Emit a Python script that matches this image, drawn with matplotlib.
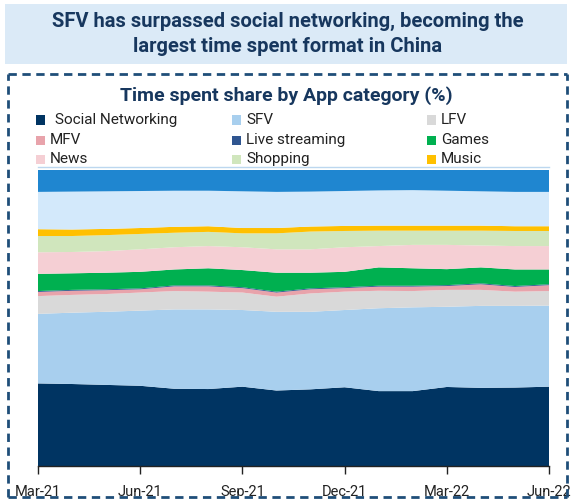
import matplotlib
matplotlib.use("Agg")
import matplotlib.pyplot as plt
from matplotlib.patches import Rectangle
from matplotlib.lines import Line2D
import numpy as np

# Monthly time-spent share by app category, Mar-21 .. Jun-22 (%)
months = ["Mar-21", "Apr-21", "May-21", "Jun-21", "Jul-21", "Aug-21", "Sep-21", "Oct-21",
          "Nov-21", "Dec-21", "Jan-22", "Feb-22", "Mar-22", "Apr-22", "May-22", "Jun-22"]
tick_labels = ["Mar-21", "Jun-21", "Sep-21", "Dec-21", "Mar-22", "Jun-22"]

social_networking = [27.9, 27.7, 27.4, 27.1, 26.1, 26.0, 26.8, 25.5, 25.9, 26.6, 25.3, 25.3, 26.7, 26.4, 26.5, 26.8]
sfv = [23.5, 24.1, 24.7, 25.4, 26.8, 26.9, 25.9, 26.6, 26.2, 26.1, 28.0, 28.3, 27.1, 27.7, 27.6, 27.4]
lfv = [6.0, 6.0, 6.0, 6.1, 6.2, 6.0, 5.9, 5.1, 6.2, 6.2, 5.9, 5.5, 5.7, 5.4, 4.8, 4.9]
mfv = [1.4, 1.4, 1.3, 1.1, 1.6, 1.8, 1.5, 1.4, 1.4, 1.2, 1.4, 1.5, 1.3, 1.9, 1.6, 2.0]
live_streaming = [0.3, 0.3, 0.3, 0.3, 0.3, 0.3, 0.3, 0.3, 0.3, 0.3, 0.3, 0.3, 0.3, 0.3, 0.3, 0.3]
games = [5.8, 5.6, 5.6, 5.6, 5.4, 5.8, 5.8, 6.4, 5.3, 5.2, 6.2, 5.9, 5.4, 5.4, 5.6, 5.0]
news = [7.3, 7.2, 7.3, 7.6, 7.5, 7.5, 7.7, 7.9, 7.9, 8.3, 7.2, 7.9, 8.2, 7.4, 7.9, 7.9]
shopping = [5.5, 5.4, 5.4, 5.2, 4.9, 4.8, 4.7, 5.4, 6.0, 5.5, 5.2, 4.8, 4.8, 5.0, 5.1, 5.1]
music = [2.3, 2.2, 2.1, 2.0, 2.0, 1.9, 1.8, 1.8, 1.7, 1.7, 1.7, 1.7, 1.7, 1.7, 1.6, 1.6]
other_light = [12.6, 12.8, 12.7, 12.5, 12.2, 12.0, 12.4, 12.2, 11.8, 11.8, 11.9, 12.0, 11.8, 11.6, 11.6, 11.6]
other_dark = [7.4, 7.3, 7.2, 7.1, 7.0, 7.0, 7.2, 7.4, 7.3, 7.1, 6.9, 6.8, 7.0, 7.2, 7.4, 7.4]

layers = [
    ("Social Networking", social_networking, "#003462"),
    ("SFV", sfv, "#a8cfee"),
    ("LFV", lfv, "#d9d9d9"),
    ("MFV", mfv, "#e8a3ab"),
    ("Live streaming", live_streaming, "#2f5590"),
    ("Games", games, "#00b050"),
    ("News", news, "#f5cfd4"),
    ("Shopping", shopping, "#d0e6bd"),
    ("Music", music, "#ffc000"),
    (None, other_light, "#d3e9fb"),
    (None, other_dark, "#1f86d0"),
]

NAVY = "#17375e"
FONT = ["Roboto", "DejaVu Sans"]
TITLE_FONT = ["Liberation Sans Narrow", "Roboto", "DejaVu Sans"]

fig = plt.figure(figsize=(5.72, 4.99), dpi=100)

# Header band
fig.patches.append(Rectangle((5 / 572, 1 - 64 / 499), 562 / 572, 60 / 499,
                             transform=fig.transFigure, facecolor="#dbeaf7",
                             edgecolor="none", zorder=0))
fig.text(0.503, 1 - 21 / 499, "SFV has surpassed social networking, becoming the",
         ha="center", va="center", fontsize=14.5, fontweight="bold", color=NAVY,
         family=TITLE_FONT)
fig.text(0.503, 1 - 47 / 499, "largest time spent format in China",
         ha="center", va="center", fontsize=14.5, fontweight="bold", color=NAVY,
         family=TITLE_FONT)

# Dashed panel frame
frame_kw = dict(color="#1f4e79", lw=2.0, linestyle=(0, (3, 2)), transform=fig.transFigure)
top_y = 1 - 74 / 499
bot_y = 1 - 497 / 499
left_x = 8 / 572
right_x = 567 / 572
fig.lines.append(Line2D([left_x, right_x], [top_y, top_y], **frame_kw))
fig.lines.append(Line2D([left_x, right_x], [bot_y, bot_y], **frame_kw))
fig.lines.append(Line2D([left_x, left_x], [bot_y, top_y], **frame_kw))
fig.lines.append(Line2D([right_x, right_x], [bot_y, top_y], **frame_kw))

fig.text(0.5, 1 - 96 / 499, "Time spent share by App category (%)",
         ha="center", va="center", fontsize=14, fontweight="bold", color=NAVY,
         family=TITLE_FONT)

# Stacked area chart
ax = fig.add_axes([38 / 572, 33 / 499, 511 / 572, 296 / 499])
x = np.arange(len(months))
values = [np.array(v, dtype=float) for _, v, _ in layers]
colors = [c for _, _, c in layers]
ax.stackplot(x, *values, colors=colors, linewidth=0)
ax.set_xlim(0, len(months) - 1)
ax.set_ylim(0, 100)

tick_pos = [months.index(t) for t in tick_labels]
ax.set_xticks(tick_pos)
ax.set_xticklabels(tick_labels, family=FONT, fontsize=10.5, color="#222222")
ax.tick_params(axis="x", direction="out", length=6, width=1, color="#222222", pad=8)
ax.set_yticks([])
for side in ("top", "left", "right"):
    ax.spines[side].set_visible(False)
ax.spines["bottom"].set_color("#222222")
ax.spines["bottom"].set_linewidth(1.0)

# Legend grid (3 columns x 3 rows)
legend_items = [l for l in layers if l[0] is not None]
order = ["Social Networking", "SFV", "LFV", "MFV", "Live streaming", "Games",
         "News", "Shopping", "Music"]
lookup = {name: color for name, _, color in legend_items}
col_marker_x = [36, 232, 427]
row_y = [120, 140, 159]
for i, name in enumerate(order):
    r, c = divmod(i, 3)
    mx = col_marker_x[c]
    my = row_y[r]
    fig.patches.append(Rectangle((mx / 572, 1 - (my + 4.5) / 499), 9 / 572, 9 / 499,
                                 transform=fig.transFigure, facecolor=lookup[name],
                                 edgecolor="none"))
    fig.text((mx + 14 + (5 if i == 0 else 0)) / 572, 1 - my / 499, name,
             ha="left", va="center", fontsize=11, color="#222222", family=FONT)

# Thin rule under the legend
fig.lines.append(Line2D([38 / 572, 549 / 572], [1 - 167 / 499, 1 - 167 / 499],
                        color="#bcd7ef", lw=1.0, transform=fig.transFigure))

fig.savefig("out.png", dpi=100)
